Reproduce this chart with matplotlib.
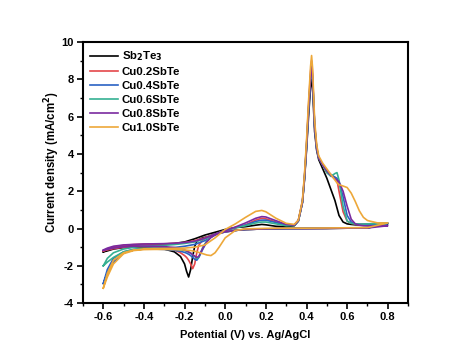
import matplotlib
matplotlib.use("Agg")
import matplotlib.pyplot as plt
from matplotlib.ticker import MultipleLocator

plt.rcParams['font.family'] = ['Liberation Sans', 'DejaVu Sans']
plt.rcParams['font.weight'] = 'bold'
plt.rcParams['axes.unicode_minus'] = False

labels = ["Sb$_2$Te$_3$", "Cu0.2SbTe", "Cu0.4SbTe", "Cu0.6SbTe", "Cu0.8SbTe", "Cu1.0SbTe"]
colors = ["#000000", "#e4474a", "#2a62c4", "#35b092", "#7a2aa0", "#eda83a"]

# anodic (forward) sweep potentials, V
E_fwd = [-0.60, -0.58, -0.55, -0.50, -0.45, -0.40, -0.35, -0.30, -0.25, -0.20,
         -0.15, -0.10, -0.05, 0.00, 0.05, 0.10, 0.15, 0.18, 0.20, 0.25,
         0.30, 0.34, 0.36, 0.38, 0.39, 0.40, 0.41, 0.42, 0.425, 0.43,
         0.44, 0.45, 0.46, 0.48, 0.50, 0.52, 0.54, 0.55, 0.56, 0.58,
         0.60, 0.62, 0.64, 0.66, 0.68, 0.70, 0.75, 0.80]

# cathodic (reverse) sweep potentials, V
E_rev = [0.80, 0.70, 0.60, 0.50, 0.40, 0.30, 0.20, 0.10, 0.05, 0.00,
         -0.03, -0.05, -0.07, -0.09, -0.11, -0.13, -0.14, -0.15, -0.16, -0.17,
         -0.18, -0.19, -0.20, -0.22, -0.25, -0.30, -0.35, -0.40, -0.45, -0.50,
         -0.55, -0.58, -0.60]

fwd_sb2te3 = [-1.25, -1.15, -1.00, -0.92, -0.88, -0.86, -0.85, -0.83, -0.80, -0.72,
              -0.55, -0.35, -0.20, -0.05, 0.05, 0.10, 0.18, 0.22, 0.20, 0.12,
              0.10, 0.15, 0.40, 1.40, 2.60, 4.20, 6.00, 7.60, 8.00, 7.50,
              5.20, 4.20, 3.70, 3.20, 2.70, 2.10, 1.50, 1.10, 0.70, 0.35,
              0.25, 0.22, 0.20, 0.20, 0.20, 0.20, 0.22, 0.25]
rev_sb2te3 = [0.25, 0.03, 0.02, 0.00, 0.00, 0.00, -0.02, -0.05, -0.10, -0.15,
              -0.22, -0.30, -0.38, -0.45, -0.50, -0.60, -0.70, -0.95, -1.50, -2.20,
              -2.60, -2.30, -1.90, -1.50, -1.25, -1.10, -1.05, -1.00, -1.00, -1.02,
              -1.10, -1.20, -1.25]

fwd_cu02 = [-1.20, -1.10, -0.98, -0.90, -0.86, -0.84, -0.83, -0.82, -0.80, -0.75,
            -0.65, -0.50, -0.30, -0.10, 0.05, 0.20, 0.45, 0.55, 0.52, 0.35,
            0.20, 0.20, 0.45, 1.50, 2.80, 4.50, 6.60, 8.40, 9.00, 8.30,
            5.60, 4.40, 3.80, 3.40, 3.00, 2.85, 2.75, 2.60, 2.00, 0.90,
            0.40, 0.28, 0.25, 0.24, 0.24, 0.25, 0.27, 0.30]
rev_cu02 = [0.30, 0.05, 0.03, 0.02, 0.01, 0.00, -0.02, -0.05, -0.10, -0.18,
            -0.25, -0.32, -0.40, -0.48, -0.60, -0.90, -1.30, -1.90, -2.15, -1.90,
            -1.70, -1.55, -1.45, -1.30, -1.15, -1.05, -1.00, -0.98, -0.97, -1.00,
            -1.08, -1.15, -1.20]

fwd_cu04 = [-2.95, -2.20, -1.60, -1.25, -1.12, -1.08, -1.06, -1.05, -1.02, -0.95,
            -0.85, -0.65, -0.35, -0.12, 0.05, 0.18, 0.38, 0.45, 0.45, 0.32,
            0.18, 0.18, 0.42, 1.40, 2.70, 4.30, 6.30, 8.00, 8.60, 8.00,
            5.50, 4.30, 3.80, 3.40, 3.10, 2.90, 2.75, 2.70, 2.50, 1.70,
            0.70, 0.35, 0.25, 0.22, 0.22, 0.22, 0.24, 0.27]
rev_cu04 = [0.27, 0.04, 0.03, 0.02, 0.01, 0.00, -0.02, -0.05, -0.10, -0.18,
            -0.25, -0.32, -0.45, -0.70, -1.10, -1.55, -1.70, -1.65, -1.55, -1.45,
            -1.38, -1.32, -1.28, -1.22, -1.17, -1.12, -1.10, -1.10, -1.15, -1.30,
            -1.80, -2.40, -2.95]

fwd_cu06 = [-2.00, -1.60, -1.30, -1.10, -1.00, -0.95, -0.92, -0.90, -0.86, -0.80,
            -0.72, -0.55, -0.30, -0.10, 0.05, 0.15, 0.30, 0.35, 0.35, 0.25,
            0.15, 0.16, 0.40, 1.40, 2.70, 4.40, 6.40, 8.20, 8.80, 8.10,
            5.50, 4.30, 3.80, 3.40, 3.00, 2.80, 2.95, 3.00, 2.60, 1.20,
            0.40, 0.28, 0.25, 0.24, 0.24, 0.25, 0.27, 0.30]
rev_cu06 = [0.30, 0.05, 0.03, 0.02, 0.01, 0.00, -0.02, -0.05, -0.10, -0.18,
            -0.25, -0.33, -0.45, -0.65, -1.00, -1.55, -1.60, -1.50, -1.40, -1.32,
            -1.27, -1.22, -1.18, -1.14, -1.10, -1.07, -1.06, -1.07, -1.12, -1.25,
            -1.55, -1.80, -2.00]

fwd_cu08 = [-1.15, -1.05, -0.95, -0.88, -0.85, -0.83, -0.82, -0.81, -0.79, -0.75,
            -0.68, -0.52, -0.30, -0.10, 0.08, 0.30, 0.55, 0.64, 0.62, 0.42,
            0.22, 0.18, 0.42, 1.40, 2.70, 4.40, 6.40, 8.10, 8.70, 8.10,
            5.50, 4.30, 3.80, 3.40, 3.10, 2.85, 2.65, 2.60, 2.50, 2.00,
            1.20, 0.50, 0.25, 0.18, 0.15, 0.14, 0.14, 0.15]
rev_cu08 = [0.15, 0.03, 0.02, 0.01, 0.00, 0.00, -0.02, -0.05, -0.10, -0.18,
            -0.26, -0.34, -0.48, -0.70, -1.05, -1.50, -1.55, -1.48, -1.40, -1.32,
            -1.26, -1.20, -1.15, -1.08, -1.02, -0.97, -0.95, -0.94, -0.95, -0.98,
            -1.05, -1.12, -1.18]

fwd_cu10 = [-3.20, -2.40, -1.70, -1.30, -1.15, -1.10, -1.08, -1.07, -1.06, -1.05,
            -1.00, -0.88, -0.50, -0.05, 0.25, 0.60, 0.92, 0.97, 0.90, 0.55,
            0.28, 0.22, 0.45, 1.50, 2.90, 4.70, 6.80, 8.70, 9.28, 8.60,
            5.80, 4.50, 3.90, 3.50, 3.20, 2.90, 2.60, 2.45, 2.35, 2.28,
            2.20, 1.90, 1.45, 0.95, 0.60, 0.43, 0.30, 0.30]
rev_cu10 = [0.30, 0.05, 0.04, 0.03, 0.02, 0.02, 0.01, -0.02, -0.10, -0.50,
            -1.00, -1.30, -1.45, -1.42, -1.35, -1.28, -1.25, -1.22, -1.20, -1.18,
            -1.17, -1.16, -1.15, -1.14, -1.13, -1.12, -1.12, -1.13, -1.18, -1.35,
            -1.90, -2.60, -3.20]

series = [
    (fwd_sb2te3, rev_sb2te3),
    (fwd_cu02, rev_cu02),
    (fwd_cu04, rev_cu04),
    (fwd_cu06, rev_cu06),
    (fwd_cu08, rev_cu08),
    (fwd_cu10, rev_cu10),
]

fig = plt.figure(figsize=(4.74, 3.63), dpi=100)
ax = fig.add_axes([0.175, 0.165, 0.686, 0.719])

for (fwd, rev), lab, col in zip(series, labels, colors):
    ax.plot(E_fwd + E_rev, fwd + rev, color=col, lw=1.2, label=lab)

ax.set_xlim(-0.7, 0.9)
ax.set_ylim(-4, 10)
ax.xaxis.set_minor_locator(MultipleLocator(0.1))
ax.yaxis.set_major_locator(MultipleLocator(2))
ax.yaxis.set_minor_locator(MultipleLocator(1))
ax.set_xticks([-0.6, -0.4, -0.2, 0.0, 0.2, 0.4, 0.6, 0.8])
ax.set_xticklabels(["-0.6", "-0.4", "-0.2", "0.0", "0.2", "0.4", "0.6", "0.8"])
ax.tick_params(which='major', direction='out', length=4, width=1.2, labelsize=8, pad=2.5)
ax.tick_params(which='minor', direction='out', length=2, width=1.0)
for lbl in ax.get_xticklabels() + ax.get_yticklabels():
    lbl.set_fontweight('bold')
for sp in ax.spines.values():
    sp.set_linewidth(1.5)

ax.set_xlabel("Potential (V) vs. Ag/AgCl", fontsize=8, fontweight='bold', labelpad=6)
ax.set_ylabel("Current density (mA/cm$^2$)", fontsize=8.3, fontweight='bold')
ax.yaxis.set_label_coords(-0.064, 0.54)

leg = ax.legend(loc='upper left', frameon=False, fontsize=8.2, handlelength=2.4,
                labelspacing=0.35, borderaxespad=0.25, handletextpad=0.35)
for t in leg.get_texts():
    t.set_fontweight('bold')

fig.savefig("out.png", dpi=100)
